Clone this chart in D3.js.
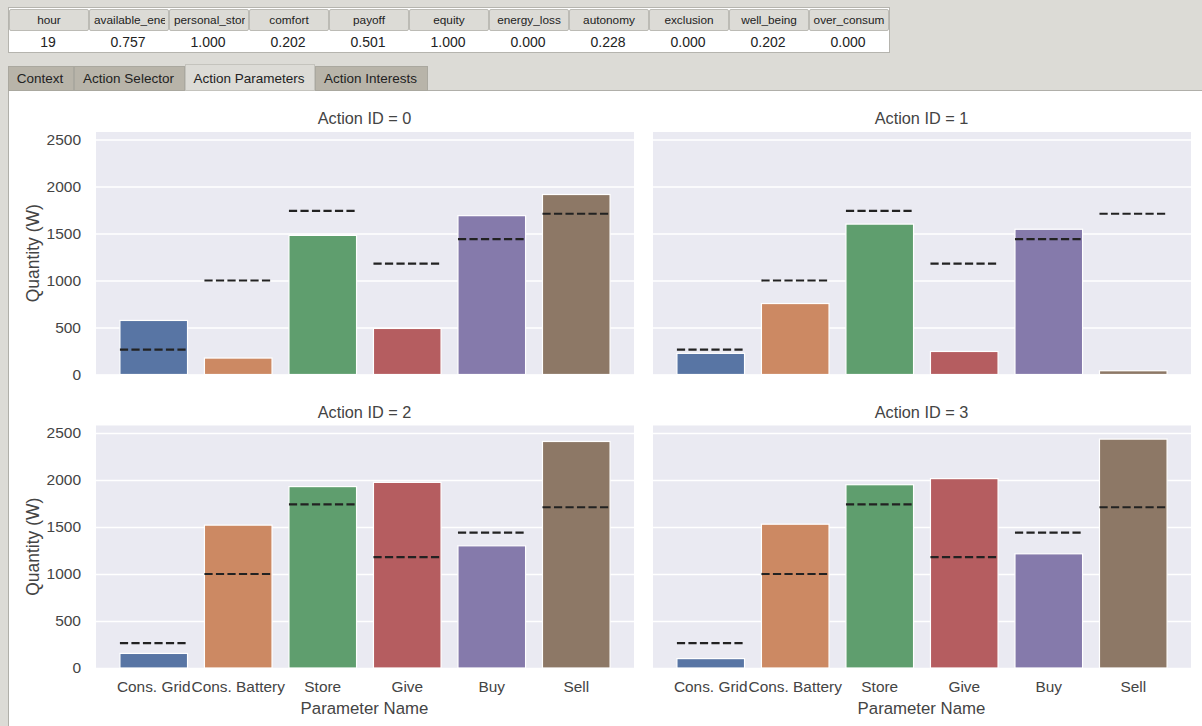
<!DOCTYPE html>
<html>
<head>
<meta charset="utf-8">
<script src="https://cdn.jsdelivr.net/npm/d3@7"></script>
<style>
  body { margin: 0; background: #dcdbd6; overflow: hidden; }
  text { font-family: "Liberation Sans", Arial, sans-serif; }
</style>
</head>
<body>
<script>
// Table along the top (long headers are cut off in the cell, as on screen)
var tableHeaders = ["hour", "available_ene", "personal_stor", "comfort", "payoff", "equity", "energy_loss", "autonomy", "exclusion", "well_being", "over_consum"];
var tableValues = ["19", "0.757", "1.000", "0.202", "0.501", "1.000", "0.000", "0.228", "0.000", "0.202", "0.000"];

var tabNames = ["Context", "Action Selector", "Action Parameters", "Action Interests"];

// Chart data
var parameterNames = ["Cons. Grid", "Cons. Battery", "Store", "Give", "Buy", "Sell"];
var actionIds = [0, 1, 2, 3];
var action0 = [575, 175, 1480, 490, 1690, 1915];
var action1 = [225, 755, 1600, 245, 1545, 40];
var action2 = [155, 1520, 1930, 1975, 1300, 2410];
var action3 = [100, 1530, 1950, 2015, 1215, 2435];
var targets = [265, 1000, 1740, 1180, 1440, 1710];
var yTicks = [0, 500, 1000, 1500, 2000, 2500];

var actionValues = [action0, action1, action2, action3];
var barColors = ["#5875a4", "#cc8963", "#5f9e6e", "#b55d60", "#857aab", "#8d7866"];

var svg = d3.select("body")
  .append("svg")
  .attr("width", 1202)
  .attr("height", 726)
  .style("display", "block");

var textColor = "#444444";

// ---- table ----
var defs = svg.append("defs");
var table = svg.append("g");
table.append("rect")
  .attr("x", 8.5).attr("y", 7.5)
  .attr("width", 881).attr("height", 45)
  .attr("fill", "#fff").attr("stroke", "#b5b4ae");

tableHeaders.forEach(function (name, i) {
  var x = 9 + i * 80;
  var cutOff = name.length > 11;
  defs.append("clipPath").attr("id", "clip" + i)
    .append("rect").attr("x", x + 3).attr("y", 8).attr("width", 73).attr("height", 24);
  table.append("rect")
    .attr("x", x + 0.5).attr("y", 9.5)
    .attr("width", 79).attr("height", 21)
    .attr("rx", 1.5)
    .attr("fill", "#dcdbd6").attr("stroke", "#bcbbb5");
  table.append("text")
    .attr("clip-path", "url(#clip" + i + ")")
    .attr("x", cutOff ? x + 5 : x + 40)
    .attr("y", 24)
    .attr("text-anchor", cutOff ? "start" : "middle")
    .attr("font-size", 11.8)
    .attr("fill", "#222")
    .text(name);
  table.append("text")
    .attr("x", x + 39)
    .attr("y", 46.5)
    .attr("text-anchor", "middle")
    .attr("font-size", 14)
    .attr("fill", "#222")
    .text(tableValues[i]);
});

// ---- tab pane ----
svg.append("rect")
  .attr("x", 8.5).attr("y", 90.5)
  .attr("width", 1200).attr("height", 640)
  .attr("fill", "#fff").attr("stroke", "#b0afa9");

var tabEdges = [8, 74, 185, 315, 428];
tabNames.forEach(function (name, i) {
  var selected = i === 2;
  svg.append("rect")
    .attr("x", tabEdges[i] + 0.5)
    .attr("y", selected ? 64.5 : 66.5)
    .attr("width", tabEdges[i + 1] - tabEdges[i] - 1)
    .attr("height", selected ? 26 : 24)
    .attr("fill", selected ? "#dcdbd6" : "#b8b4a9")
    .attr("stroke", selected ? "#c4c3bd" : "#aaa89f");
  svg.append("text")
    .attr("x", (tabEdges[i] + tabEdges[i + 1]) / 2 - 1)
    .attr("y", 83)
    .attr("text-anchor", "middle")
    .attr("font-size", 13.5)
    .attr("fill", "#222")
    .text(name);
});

// ---- panels ----
var panelWidth = 538;
var panelHeight = 242.5;
var panelLeft = [96, 653, 96, 653];
var panelTop = [132, 132, 425.5, 425.5];

var xScale = d3.scaleBand()
  .domain(parameterNames)
  .range([0, panelWidth])
  .paddingInner(0.2)
  .paddingOuter(0.283);

var yScale = d3.scaleLinear()
  .domain([0, 2580])
  .range([panelHeight, 0]);

actionIds.forEach(function (id, i) {
  var values = actionValues[i];
  var g = svg.append("g")
    .attr("transform", "translate(" + panelLeft[i] + "," + panelTop[i] + ")");

  g.append("rect")
    .attr("width", panelWidth)
    .attr("height", panelHeight)
    .attr("fill", "#eaeaf2");

  // gridlines
  var grid = g.append("g")
    .call(d3.axisLeft(yScale).tickValues(yTicks).tickSize(-panelWidth).tickFormat(""));
  grid.select(".domain").remove();
  grid.selectAll("line").attr("stroke", "#fff").attr("stroke-width", 1.5);

  g.selectAll(".bar")
    .data(values)
    .enter()
    .append("rect")
    .attr("class", "bar")
    .attr("x", function (d, j) { return xScale(parameterNames[j]); })
    .attr("y", function (d) { return yScale(d); })
    .attr("width", xScale.bandwidth())
    .attr("height", function (d) { return panelHeight - yScale(d); })
    .attr("fill", function (d, j) { return barColors[j]; })
    .attr("stroke", "#fff")
    .attr("stroke-width", 1.2);

  g.selectAll(".target")
    .data(targets)
    .enter()
    .append("line")
    .attr("class", "target")
    .attr("x1", function (d, j) { return xScale(parameterNames[j]); })
    .attr("x2", function (d, j) { return xScale(parameterNames[j]) + xScale.bandwidth(); })
    .attr("y1", function (d) { return yScale(d); })
    .attr("y2", function (d) { return yScale(d); })
    .attr("stroke", "#222")
    .attr("stroke-width", 2.2)
    .attr("stroke-dasharray", "8.2,3.3");

  g.append("text")
    .attr("x", panelWidth / 2 - 0.5)
    .attr("y", -8)
    .attr("text-anchor", "middle")
    .attr("font-size", 16.3)
    .attr("fill", textColor)
    .text("Action ID = " + id);

  // y labels only on the left column
  if (i % 2 === 0) {
    var yAxis = g.append("g")
      .call(d3.axisLeft(yScale).tickValues(yTicks).tickSize(0).tickPadding(15).tickFormat(d3.format("d")));
    yAxis.select(".domain").remove();
    yAxis.selectAll("text")
      .attr("font-size", 15.5)
      .attr("font-family", "Liberation Sans")
      .attr("fill", textColor);
    g.append("text")
      .attr("transform", "translate(-57," + (panelHeight / 2) + ") rotate(-90)")
      .attr("text-anchor", "middle")
      .attr("font-size", 17.5)
      .attr("fill", textColor)
      .text("Quantity (W)");
  }

  // x labels only on the bottom row
  if (i >= 2) {
    var xAxis = g.append("g")
      .attr("transform", "translate(0," + panelHeight + ")")
      .call(d3.axisBottom(xScale).tickSize(0).tickPadding(13));
    xAxis.select(".domain").remove();
    xAxis.selectAll("text")
      .attr("font-size", 15.4)
      .attr("font-family", "Liberation Sans")
      .attr("fill", textColor);
    g.append("text")
      .attr("x", panelWidth / 2 - 0.5)
      .attr("y", panelHeight + 45.5)
      .attr("text-anchor", "middle")
      .attr("font-size", 16.8)
      .attr("fill", textColor)
      .text("Parameter Name");
  }
});
</script>
</body>
</html>
